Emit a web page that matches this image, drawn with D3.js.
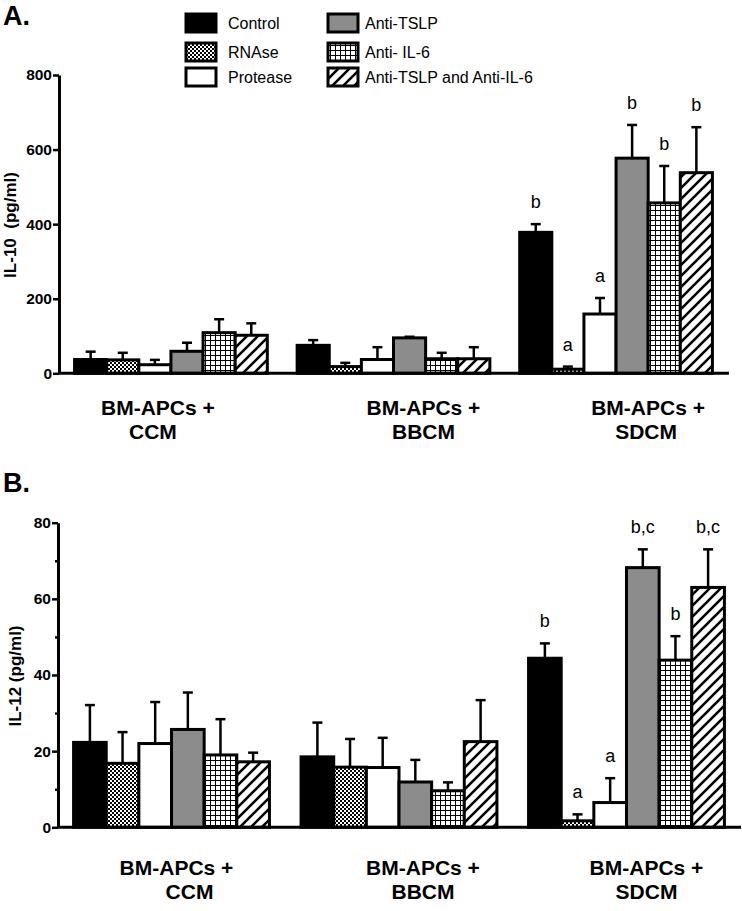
<!DOCTYPE html>
<html><head><meta charset="utf-8">
<script src="https://cdn.jsdelivr.net/npm/d3@7"></script>
<style>body{margin:0;background:#fff}svg{display:block;font-family:"Liberation Sans",Arial,sans-serif}</style>
</head><body><svg id="c" width="742" height="911"></svg>
<script>
// ---------- data ----------
const series = ["Control", "RNAse", "Protease", "Anti-TSLP", "Anti- IL-6", "Anti-TSLP and Anti-IL-6"];
const groups = ["CCM", "BBCM", "SDCM"];
const groupLine1 = ["BM-APCs +", "BM-APCs +", "BM-APCs +"];
const groupLine2 = ["CCM", "BBCM", "SDCM"];

// IL-10 (pg/ml): rows = series, columns = groups
const il10Means = [
  [37, 75, 378],
  [36, 18, 11],
  [23, 37, 159],
  [59, 95, 577],
  [109, 39, 457],
  [102, 39, 538]
];
const il10Errors = [
  [21, 14, 22],
  [19, 10, 7],
  [13, 33, 43],
  [23, 3, 89],
  [36, 16, 99],
  [32, 31, 122]
];
const il10Letters = [
  ["", "", "b"], ["", "", "a"], ["", "", "a"], ["", "", "b"], ["", "", "b"], ["", "", "b"]
];
const il10Ticks = [0, 200, 400, 600, 800];

// IL-12 (pg/ml)
const il12Means = [
  [22.3, 18.5, 44.4],
  [16.8, 15.8, 1.7],
  [22.0, 15.7, 6.5],
  [25.7, 11.9, 68.2],
  [19.0, 9.6, 43.9],
  [17.2, 22.5, 63.0]
];
const il12Errors = [
  [9.8, 9.0, 3.9],
  [8.2, 7.4, 1.7],
  [10.9, 7.8, 6.4],
  [9.7, 5.8, 4.8],
  [9.4, 2.2, 6.3],
  [2.4, 10.9, 10.0]
];
const il12Letters = [
  ["", "", "b"], ["", "", "a"], ["", "", "a"], ["", "", "b,c"], ["", "", "b"], ["", "", "b,c"]
];
const il12Ticks = [0, 20, 40, 60, 80];
const il12MinorTicks = [10, 30, 50, 70];

// ---------- styles ----------
const svg = d3.select("#c");
const defs = svg.append("defs");

const pCheck = defs.append("pattern").attr("id", "pat-check").attr("patternUnits", "userSpaceOnUse")
  .attr("width", 4).attr("height", 4);
pCheck.append("rect").attr("width", 4).attr("height", 4).attr("fill", "#fff");
pCheck.append("rect").attr("width", 2).attr("height", 2).attr("fill", "#000");
pCheck.append("rect").attr("x", 2).attr("y", 2).attr("width", 2).attr("height", 2).attr("fill", "#000");

const pGrid = defs.append("pattern").attr("id", "pat-grid").attr("patternUnits", "userSpaceOnUse")
  .attr("width", 5).attr("height", 5);
pGrid.append("rect").attr("width", 5).attr("height", 5).attr("fill", "#fff");
pGrid.append("path").attr("d", "M0,0.5H5M0.5,0V5").attr("stroke", "#000").attr("stroke-width", 1);

const pHatch = defs.append("pattern").attr("id", "pat-hatch").attr("patternUnits", "userSpaceOnUse")
  .attr("width", 11).attr("height", 11);
pHatch.append("rect").attr("width", 11).attr("height", 11).attr("fill", "#fff");
pHatch.append("path").attr("d", "M-2,2L2,-2M0,11L11,0M9,13L13,9").attr("stroke", "#000").attr("stroke-width", 2.6);

const fills = d3.scaleOrdinal().domain(series)
  .range(["#000", "url(#pat-check)", "#fff", "#8c8c8c", "url(#pat-grid)", "url(#pat-hatch)"]);

// ---------- legend ----------
const legendLeft = series.slice(0, 3), legendRight = series.slice(3);
const legY = d3.scalePoint().domain([0, 1, 2]).range([23, 77]);
function legend(items, sx, tx) {
  const g = svg.append("g");
  items.forEach((s, i) => {
    const cy = legY(i) + (i === 1 ? 2 : 0);
    g.append("rect").attr("x", sx).attr("y", cy - 9).attr("width", 30).attr("height", 18)
      .attr("fill", fills(s)).attr("stroke", "#000").attr("stroke-width", 3);
    g.append("text").attr("x", tx).attr("y", cy + 6).attr("font-size", 16).text(s);
  });
}
legend(legendLeft, 186, 228);
legend(legendRight, 328, 365);

// ---------- panels ----------
function panel(o) {
  const x0 = d3.scaleBand().domain(groups).range([o.left, o.right]).paddingInner(o.pi).paddingOuter(o.po);
  const x1 = d3.scaleBand().domain(series).range([0, x0.bandwidth()]);
  const y = d3.scaleLinear().domain([0, o.max]).range([o.bottom, o.top]);
  const g = svg.append("g");

  const recs = [];
  series.forEach((s, si) => groups.forEach((gr, gi) => recs.push({
    s, gr, gi, v: o.means[si][gi], e: o.errs[si][gi], lab: o.letters[si][gi]
  })));

  // bars
  g.selectAll("rect.bar").data(recs).join("rect").attr("class", "bar")
    .attr("x", d => x0(d.gr) + x1(d.s))
    .attr("y", d => y(d.v))
    .attr("width", x1.bandwidth())
    .attr("height", d => y(0) - y(d.v))
    .attr("fill", d => fills(d.s))
    .attr("stroke", "#000").attr("stroke-width", 3);

  // error bars (upper only)
  const cx = d => x0(d.gr) + x1(d.s) + x1.bandwidth() / 2;
  g.selectAll("line.err").data(recs).join("line").attr("class", "err")
    .attr("x1", cx).attr("x2", cx)
    .attr("y1", d => y(d.v)).attr("y2", d => y(d.v + d.e))
    .attr("stroke", "#000").attr("stroke-width", 2.5);
  g.selectAll("line.cap").data(recs).join("line").attr("class", "cap")
    .attr("x1", d => cx(d) - 5).attr("x2", d => cx(d) + 5)
    .attr("y1", d => y(d.v + d.e)).attr("y2", d => y(d.v + d.e))
    .attr("stroke", "#000").attr("stroke-width", 2.5);

  // letters
  g.selectAll("text.lab").data(recs.filter(d => d.lab)).join("text").attr("class", "lab")
    .attr("x", cx).attr("y", d => y(d.v + d.e) - 16)
    .attr("text-anchor", "middle").attr("font-size", 18).text(d => d.lab);

  // y axis
  const ya = g.append("g").attr("transform", `translate(${o.left},0)`)
    .call(d3.axisLeft(y).tickValues(o.ticks).tickSize(6).tickSizeOuter(0).tickPadding(1));
  ya.select(".domain").attr("stroke-width", 3);
  ya.selectAll(".tick line").attr("stroke-width", 2.5);
  ya.selectAll(".tick text").attr("font-size", 15.5).attr("font-weight", "bold")
    .attr("font-family", '"Liberation Sans",Arial,sans-serif').attr("fill", "#000");
  if (o.minor) {
    const ym = g.append("g").attr("transform", `translate(${o.left},0)`)
      .call(d3.axisLeft(y).tickValues(o.minor).tickSize(3).tickFormat(""));
    ym.select(".domain").remove();
    ym.selectAll(".tick line").attr("stroke-width", 2.5);
  }

  // x axis line
  g.append("line").attr("x1", o.left).attr("x2", o.axisEnd)
    .attr("y1", y(0)).attr("y2", y(0)).attr("stroke", "#000").attr("stroke-width", 3);

  // category labels
  groups.forEach((gr, gi) => {
    const c = x0(gr) + x0.bandwidth() / 2;
    g.append("text").attr("x", c + o.off1[gi]).attr("y", o.lab1Y).attr("text-anchor", "middle")
      .attr("font-size", 21).attr("font-weight", "bold").text(groupLine1[gi]);
    g.append("text").attr("x", c + o.off2[gi]).attr("y", o.lab2Y).attr("text-anchor", "middle")
      .attr("font-size", 21).attr("font-weight", "bold").text(groupLine2[gi]);
  });

  // y title
  g.append("text").attr("transform", `translate(${o.titleX},${o.titleY}) rotate(-90)`)
    .attr("text-anchor", "middle").attr("font-size", 17).attr("font-weight", "bold")
    .attr("xml:space", "preserve").style("white-space", "pre").text(o.title);

  // panel letter
  svg.append("text").attr("x", 3).attr("y", o.panelY).attr("font-size", 27).attr("font-weight", "bold").text(o.panelLabel);
}

panel({
  panelLabel: "A.", panelY: 25, title: "IL-10  (pg/ml)", titleX: 16, titleY: 225,
  means: il10Means, errs: il10Errors, letters: il10Letters, ticks: il10Ticks, max: 800,
  left: 59, right: 728, axisEnd: 729, pi: 0.134, po: 0.07, top: 75, bottom: 373.3,
  lab1Y: 415, lab2Y: 439, off1: [-13, 30, 32], off2: [-18, 30, 30]
});
panel({
  panelLabel: "B.", panelY: 492, title: "IL-12 (pg/ml)", titleX: 21, titleY: 676,
  means: il12Means, errs: il12Errors, letters: il12Letters, ticks: il12Ticks, minor: il12MinorTicks, max: 80,
  left: 58, right: 740, axisEnd: 741, pi: 0.139, po: 0.0685, top: 522.7, bottom: 827.3,
  lab1Y: 875, lab2Y: 899, off1: [5, 24, 20], off2: [18, 24, 20]
});
</script></body></html>
